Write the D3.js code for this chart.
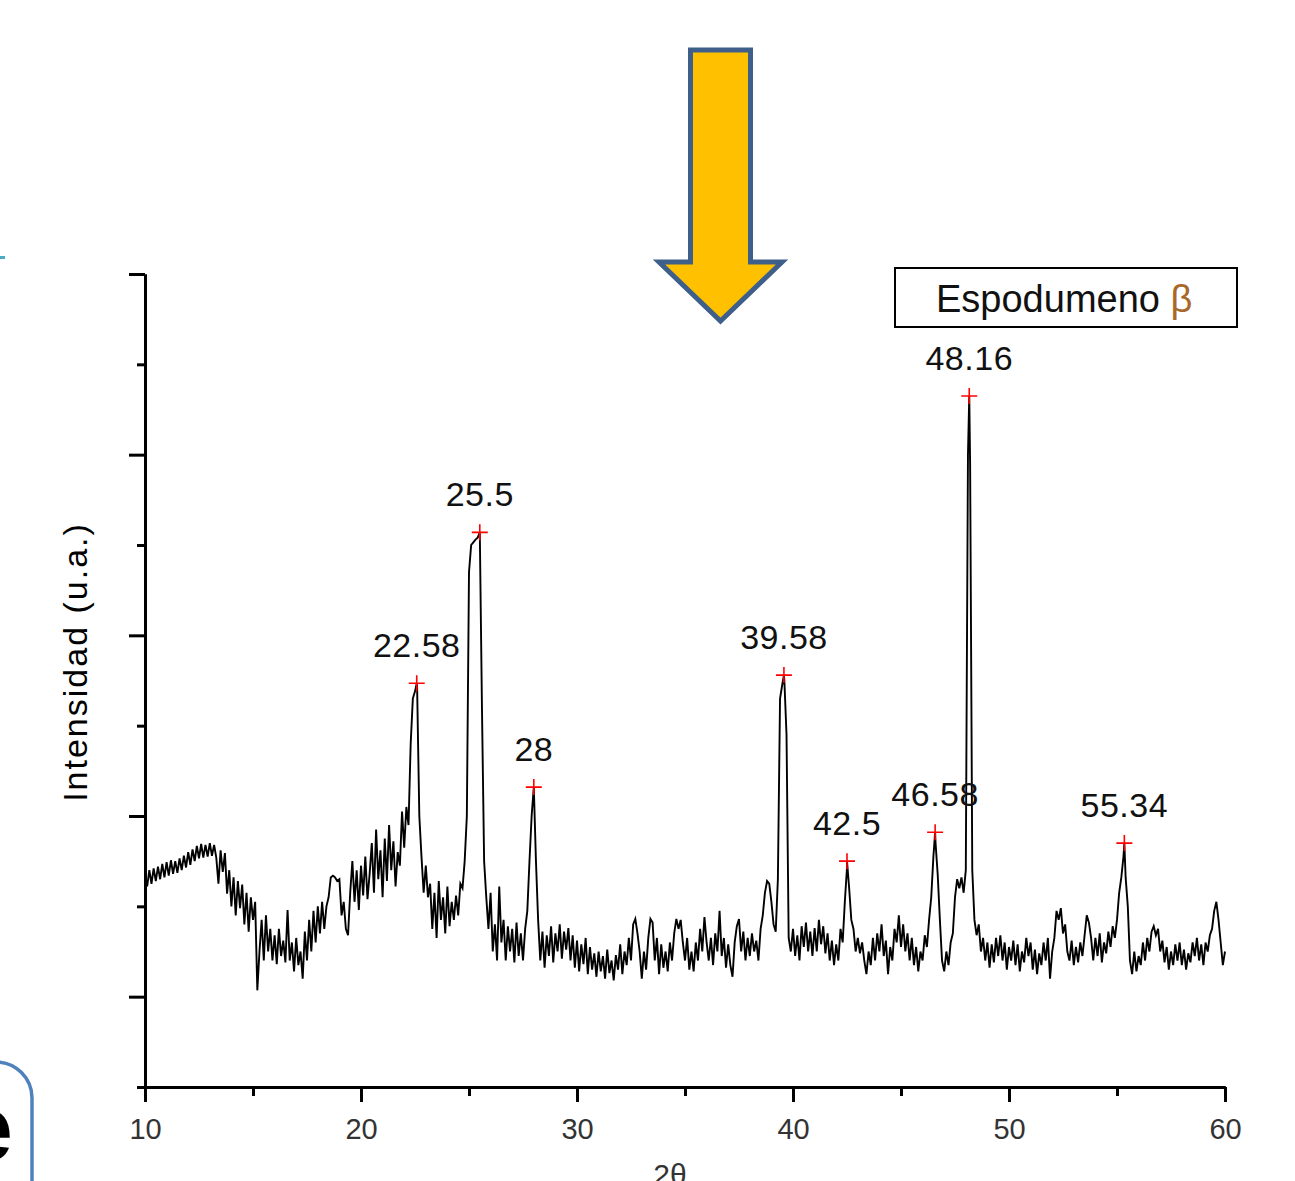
<!DOCTYPE html>
<html>
<head>
<meta charset="utf-8">
<script src="https://cdn.jsdelivr.net/npm/d3@7/dist/d3.min.js"></script>
<style>
body { margin: 0; background: #fff; }
text { font-family: "Liberation Sans", Arial, sans-serif; }
</style>
</head>
<body>
<div id="chart"></div>
<script>
// difractograma, intensidad cada 0.1 grados desde 2θ = 10
var inicio = 10,
    paso = 0.1;
var intensidad = [
    236, 222, 240, 225, 242, 228, 244, 230, 247, 232,
    249, 234, 251, 236, 250, 237, 253, 240, 256, 243,
    260, 246, 263, 250, 267, 253, 269, 254, 268, 255,
    270, 256, 268, 254, 225, 262, 238, 259, 214, 240,
    200, 232, 190, 228, 198, 224, 180, 215, 172, 210,
    185, 205, 107, 150, 185, 140, 190, 150, 175, 140,
    168, 136, 175, 145, 162, 138, 196, 140, 160, 128,
    165, 135, 150, 120, 172, 140, 185, 150, 195, 160,
    200, 170, 205, 175, 200, 210, 232, 234, 232, 228,
    230, 190, 205, 175, 168, 215, 250, 205, 240, 196,
    245, 212, 255, 208, 236, 270, 215, 285, 230, 262,
    210, 275, 228, 290, 240, 272, 222, 260, 245, 305,
    265, 310, 290, 380, 430, 438, 440, 300, 255, 215,
    245, 210, 225, 175, 215, 165, 228, 185, 210, 170,
    222, 178, 205, 185, 212, 190, 225, 220, 250, 300,
    570, 600, 603, 606, 608, 614, 420, 250, 210, 175,
    215, 150, 180, 140, 222, 160, 185, 140, 178, 150,
    175, 138, 182, 145, 170, 140, 175, 195, 250, 300,
    332, 250, 185, 140, 172, 132, 168, 145, 178, 138,
    170, 150, 180, 142, 172, 152, 176, 140, 168, 132,
    162, 128, 158, 136, 165, 125, 155, 130, 148, 122,
    150, 128, 145, 120, 152, 126, 140, 118, 146, 130,
    158, 125, 150, 135, 165, 140, 180, 186, 170, 150,
    120, 150, 130, 165, 186, 182, 140, 165, 125, 158,
    132, 150, 128, 160, 140, 170, 186, 175, 185, 160,
    140, 165, 130, 150, 128, 160, 140, 175, 150, 188,
    160, 140, 165, 135, 170, 150, 195, 145, 165, 132,
    158, 135, 122, 160, 178, 186, 150, 172, 140, 165,
    145, 170, 150, 162, 140, 175, 190, 215, 228, 225,
    205, 180, 172, 230, 430, 445, 450, 390, 165, 150,
    175, 145, 168, 140, 178, 155, 182, 150, 172, 145,
    176, 150, 185, 158, 178, 148, 170, 140, 162, 135,
    158, 140, 175, 160, 205, 243, 220, 185, 175, 150,
    165, 148, 160, 140, 125, 150, 135, 165, 140, 170,
    150, 180, 145, 162, 125, 155, 140, 175, 160, 190,
    155, 180, 150, 170, 140, 165, 135, 155, 128, 150,
    140, 168, 155, 185, 210, 255, 270, 235, 185, 140,
    128, 150, 135, 160, 170, 210, 230, 220, 232, 215,
    240, 700, 690, 240, 185, 168, 180, 150, 165, 140,
    160, 132, 158, 138, 165, 145, 168, 140, 160, 130,
    155, 140, 162, 135, 158, 128, 150, 138, 165, 145,
    160, 130, 152, 125, 148, 135, 160, 140, 165, 120,
    150, 165, 195, 185, 198, 170, 180, 150, 140, 162,
    135, 155, 138, 160, 145, 168, 190, 182, 165, 140,
    165, 145, 170, 138, 160, 148, 172, 155, 178, 165,
    185, 215, 232, 255, 232, 200, 140, 125, 150, 128,
    145, 135, 160, 140, 165, 150, 172, 178, 168, 175,
    150, 162, 138, 155, 130, 150, 135, 158, 140, 160,
    135, 152, 130, 148, 138, 160, 145, 165, 140, 158,
    135, 160, 150, 168, 175, 195, 205, 185, 160, 135,
    150
];

var picos = [22.58, 25.5, 28, 39.58, 42.5, 46.58, 48.16, 55.34];
var alturaPicos = [447, 614, 332, 456, 250, 282, 765, 270];
var etiquetasPicos = ["22.58", "25.5", "28", "39.58", "42.5", "46.58", "48.16", "55.34"];

var ticksX = [10, 20, 30, 40, 50, 60],
    ticksXmenor = [15, 25, 35, 45, 55],
    ticksY = [100, 300, 500, 700, 900],
    ticksYmenor = [0, 200, 400, 600, 800];

var width = 1295,
    height = 1181,
    margin = { left: 145, right: 70, top: 274, bottom: 94 },
    leyenda = "Espodumeno ",
    tituloY = "Intensidad (u.a.)",
    tituloX = "2θ";

var svg = d3.select("#chart").append("svg")
    .attr("width", width)
    .attr("height", height);

var x = d3.scaleLinear().domain([10, 60]).range([margin.left, width - margin.right]);
var y = d3.scaleLinear().domain([0, 900]).range([height - margin.bottom, margin.top]);

// puntos del trazo: la rejilla mas los maximos de cada pico
var puntos = intensidad.map(function(v, i) { return { t: inicio + i * paso, v: v }; });
picos.forEach(function(p, i) { puntos.push({ t: p, v: alturaPicos[i] }); });
puntos.sort(function(a, b) { return a.t - b.t; });

var linea = d3.line()
    .x(function(d) { return x(d.t); })
    .y(function(d) { return y(d.v); });

svg.append("path")
    .datum(puntos)
    .attr("d", linea)
    .attr("fill", "none")
    .attr("stroke", "#000")
    .attr("stroke-width", 1.9)
    .attr("stroke-linejoin", "miter");

// ejes
var ejeX = svg.append("g")
    .attr("class", "eje")
    .attr("transform", "translate(0," + y(0) + ")")
    .call(d3.axisBottom(x).tickValues(ticksX).tickSize(15).tickPadding(16).tickSizeOuter(0));
svg.append("g")
    .attr("transform", "translate(0," + y(0) + ")")
    .call(d3.axisBottom(x).tickValues(ticksXmenor).tickSize(9).tickFormat("").tickSizeOuter(0));
svg.append("g")
    .attr("transform", "translate(" + x(10) + ",0)")
    .call(d3.axisLeft(y).tickValues(ticksY).tickSize(16).tickFormat("").tickSizeOuter(0));
svg.append("g")
    .attr("transform", "translate(" + x(10) + ",0)")
    .call(d3.axisLeft(y).tickValues(ticksYmenor).tickSize(8).tickFormat("").tickSizeOuter(0));

svg.selectAll(".domain, .tick line")
    .attr("stroke", "#000")
    .attr("stroke-width", 3);

ejeX.selectAll("text")
    .style("font-size", "29px")
    .attr("fill", "#333");

svg.append("text")
    .attr("transform", "translate(87," + 662 + ") rotate(-90)")
    .attr("text-anchor", "middle")
    .style("font-size", "34px")
    .style("letter-spacing", "2px")
    .text(tituloY);

svg.append("text")
    .attr("x", 670)
    .attr("y", 1185)
    .attr("text-anchor", "middle")
    .style("font-size", "30px")
    .attr("fill", "#333")
    .text(tituloX);

// marcas de picos
var pico = svg.selectAll(".pico")
    .data(picos)
    .enter().append("g")
    .attr("class", "pico")
    .attr("transform", function(d, i) { return "translate(" + x(d) + "," + y(alturaPicos[i]) + ")"; });

pico.append("path")
    .attr("d", "M-8,0H8M0,-8V8")
    .attr("stroke", "#ff0000")
    .attr("stroke-width", 1.6);

pico.append("text")
    .attr("y", -26)
    .attr("text-anchor", "middle")
    .style("font-size", "34px")
    .style("letter-spacing", "0.5px")
    .attr("fill", "#111")
    .text(function(d, i) { return etiquetasPicos[i]; });

// leyenda
svg.append("rect")
    .attr("x", 895)
    .attr("y", 268)
    .attr("width", 342)
    .attr("height", 59)
    .attr("fill", "#fff")
    .attr("stroke", "#000")
    .attr("stroke-width", 2);

var tLeyenda = svg.append("text")
    .attr("x", 936)
    .attr("y", 312)
    .style("font-size", "38px")
    .attr("fill", "#111")
    .text(leyenda);
tLeyenda.append("tspan")
    .attr("fill", "#a8682a")
    .text("β");

// flecha
svg.append("path")
    .attr("d", "M690.5,50 H750.5 V262 H782 L720.5,321 L659,262 H690.5 Z")
    .attr("fill", "#ffc000")
    .attr("stroke", "#3e5f8a")
    .attr("stroke-width", 5)
    .attr("stroke-linejoin", "miter");

// restos de la diapositiva
svg.append("rect")
    .attr("x", 0).attr("y", 256).attr("width", 5).attr("height", 3)
    .attr("fill", "#4bacc6");

svg.append("rect")
    .attr("x", -240).attr("y", 1062).attr("width", 272).attr("height", 200)
    .attr("rx", 36)
    .attr("fill", "#fff")
    .attr("stroke", "#4f81bd")
    .attr("stroke-width", 3.5);

svg.append("text")
    .attr("x", 13)
    .attr("y", 1160)
    .attr("text-anchor", "end")
    .style("font-size", "92px")
    .style("font-weight", "bold")
    .text("e");
</script>
</body>
</html>
